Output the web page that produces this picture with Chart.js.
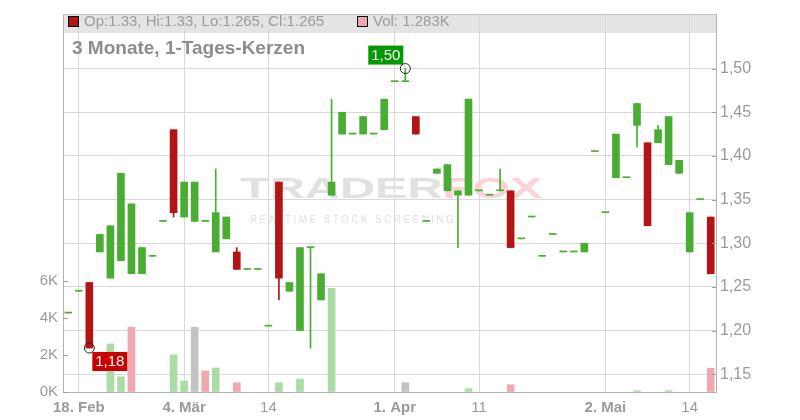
<!DOCTYPE html>
<html>
<head>
<meta charset="utf-8">
<script src="https://cdn.jsdelivr.net/npm/chart.js@4/dist/chart.umd.min.js"></script>
<style>
  body { margin: 0; background: #fff; }
  #wrap { width: 800px; height: 420px; }
</style>
</head>
<body>
<div id="wrap"><canvas id="chart"></canvas></div>
<script>
var dates = [
  '2025-02-17', '2025-02-18', '2025-02-19', '2025-02-20', '2025-02-21', '2025-02-24', '2025-02-25', '2025-02-26', '2025-02-27', '2025-02-28',
  '2025-03-03', '2025-03-04', '2025-03-05', '2025-03-06', '2025-03-07', '2025-03-10', '2025-03-11', '2025-03-12', '2025-03-13', '2025-03-14',
  '2025-03-17', '2025-03-18', '2025-03-19', '2025-03-20', '2025-03-21', '2025-03-24', '2025-03-25', '2025-03-26', '2025-03-27', '2025-03-28',
  '2025-03-31', '2025-04-01', '2025-04-02', '2025-04-03', '2025-04-04', '2025-04-07', '2025-04-08', '2025-04-09', '2025-04-10', '2025-04-11',
  '2025-04-14', '2025-04-15', '2025-04-16', '2025-04-17', '2025-04-22', '2025-04-23', '2025-04-24', '2025-04-25', '2025-04-28', '2025-04-29',
  '2025-04-30', '2025-05-02', '2025-05-05', '2025-05-06', '2025-05-07', '2025-05-08', '2025-05-09', '2025-05-12', '2025-05-13', '2025-05-14',
  '2025-05-15', '2025-05-16'
];

var opens = [
  1.22, 1.245, 1.255, 1.29, 1.26, 1.28, 1.265, 1.265, 1.285, 1.325,
  1.43, 1.33, 1.325, 1.325, 1.29, 1.305, 1.29, 1.27, 1.27, 1.205,
  1.37, 1.245, 1.20, 1.295, 1.235, 1.355, 1.425, 1.425, 1.425, 1.425,
  1.43, 1.485, 1.485, 1.445, 1.325, 1.38, 1.36, 1.355, 1.355, 1.36,
  1.355, 1.36, 1.36, 1.305, 1.33, 1.285, 1.31, 1.29, 1.29, 1.29,
  1.405, 1.335, 1.375, 1.375, 1.435, 1.415, 1.415, 1.39, 1.38, 1.29,
  1.35, 1.33
];
var highs = [
  1.22, 1.245, 1.255, 1.31, 1.32, 1.38, 1.345, 1.295, 1.285, 1.325,
  1.43, 1.37, 1.37, 1.325, 1.385, 1.33, 1.295, 1.27, 1.27, 1.205,
  1.37, 1.255, 1.295, 1.295, 1.265, 1.465, 1.45, 1.425, 1.445, 1.425,
  1.465, 1.485, 1.50, 1.445, 1.325, 1.385, 1.39, 1.36, 1.465, 1.36,
  1.355, 1.385, 1.36, 1.305, 1.33, 1.285, 1.31, 1.29, 1.29, 1.30,
  1.405, 1.335, 1.425, 1.375, 1.46, 1.415, 1.435, 1.445, 1.395, 1.335,
  1.35, 1.33
];
var lows = [
  1.22, 1.245, 1.18, 1.29, 1.26, 1.28, 1.265, 1.265, 1.285, 1.325,
  1.33, 1.33, 1.325, 1.325, 1.29, 1.305, 1.27, 1.27, 1.27, 1.205,
  1.235, 1.245, 1.20, 1.18, 1.235, 1.355, 1.425, 1.425, 1.425, 1.425,
  1.43, 1.485, 1.485, 1.425, 1.325, 1.38, 1.36, 1.295, 1.355, 1.36,
  1.355, 1.36, 1.295, 1.305, 1.33, 1.285, 1.31, 1.29, 1.29, 1.29,
  1.405, 1.335, 1.375, 1.375, 1.41, 1.32, 1.415, 1.39, 1.38, 1.29,
  1.35, 1.265
];
var closes = [
  1.22, 1.245, 1.18, 1.31, 1.32, 1.38, 1.345, 1.295, 1.285, 1.325,
  1.335, 1.37, 1.37, 1.325, 1.335, 1.33, 1.27, 1.27, 1.27, 1.205,
  1.26, 1.255, 1.295, 1.295, 1.265, 1.37, 1.45, 1.425, 1.445, 1.425,
  1.465, 1.485, 1.485, 1.425, 1.325, 1.385, 1.39, 1.36, 1.465, 1.36,
  1.355, 1.36, 1.295, 1.305, 1.33, 1.285, 1.31, 1.29, 1.29, 1.30,
  1.405, 1.335, 1.425, 1.375, 1.46, 1.32, 1.43, 1.445, 1.395, 1.335,
  1.35, 1.265
];
var volumes = [
  0, 0, 0, 0, 2600, 820, 3500, 0, 0, 0,
  2000, 600, 3500, 1140, 1300, 0, 500, 0, 0, 0,
  500, 0, 700, 0, 0, 5600, 0, 0, 0, 0,
  0, 0, 500, 0, 0, 0, 0, 0, 180, 0,
  0, 0, 390, 0, 0, 0, 0, 0, 0, 0,
  0, 0, 0, 0, 70, 0, 0, 70, 0, 0,
  0, 1283
];

var tickIndex = [1, 11, 19, 31, 39, 51, 59];
var tickText = ['18. Feb', '4. Mär', '14', '1. Apr', '11', '2. Mai', '14'];
var priceTicks = [1.15, 1.20, 1.25, 1.30, 1.35, 1.40, 1.45, 1.50];
var volTicks = [0, 2000, 4000, 6000];

var GREEN = '#4aad33';
var RED = '#b31515';
var FONT = "'Liberation Sans', Arial, sans-serif";

Chart.defaults.font.family = FONT;
Chart.defaults.color = '#999';

var candleColors = dates.map(function(d, i) {
  return closes[i] < opens[i] ? RED : GREEN;
});
var volColors = dates.map(function(d, i) {
  if (i === 0 || closes[i] === closes[i - 1]) return '#c2c2c2';
  return closes[i] > closes[i - 1] ? '#aadca5' : '#f0a8b0';
});
var bodies = dates.map(function(d, i) {
  return [Math.min(opens[i], closes[i]), Math.max(opens[i], closes[i])];
});
var wicks = dates.map(function(d, i) {
  return [lows[i], highs[i]];
});
// days without turnover get no bar at all
var volBars = volumes.map(function(v) { return v > 0 ? v : null; });

function fmtPrice(v) {
  return v.toFixed(2).replace('.', ',');
}

var decor = {
  id: 'decor',
  beforeDraw: function(chart) {
    var ctx = chart.ctx, a = chart.chartArea;
    ctx.save();
    ctx.fillStyle = '#e4e4e4';
    ctx.fillRect(a.left, a.top, a.right - a.left, 19);
    ctx.restore();
  },
  beforeDatasetsDraw: function(chart) {
    var ctx = chart.ctx;
    var last = dates.length - 1;
    ctx.save();

    // watermark
    ctx.textBaseline = 'alphabetic';
    ctx.font = 'bold 30px ' + FONT;
    ctx.save();
    ctx.translate(240, 198);
    ctx.scale(1.62, 1);
    ctx.fillStyle = '#e1e1e1';
    ctx.fillText('TRADER', 0, 0);
    var w = ctx.measureText('TRADER').width;
    ctx.fillStyle = '#fbd3d7';
    ctx.fillText('FOX', w, 0);
    ctx.restore();
    ctx.font = '10px ' + FONT;
    ctx.fillStyle = '#e0e0e0';
    ctx.letterSpacing = '2.4px';
    ctx.fillText('REALTIME STOCK SCREENING', 250, 223);
    ctx.letterSpacing = '0px';

    // header line
    ctx.font = '15px ' + FONT;
    ctx.textBaseline = 'middle';
    ctx.fillStyle = candleColors[last];
    ctx.fillRect(68.5, 16.5, 10, 10);
    ctx.strokeStyle = '#000';
    ctx.lineWidth = 1;
    ctx.strokeRect(68.5, 16.5, 10, 10);
    ctx.fillStyle = '#9a9a9a';
    ctx.fillText('Op:' + opens[last] + ', Hi:' + highs[last] + ', Lo:' + lows[last] + ', Cl:' + closes[last], 84, 21.5);
    ctx.fillStyle = volColors[last];
    ctx.fillRect(357.5, 16.5, 10, 10);
    ctx.strokeRect(357.5, 16.5, 10, 10);
    ctx.fillStyle = '#9a9a9a';
    ctx.fillText('Vol: ' + (volumes[last] / 1000).toFixed(3) + 'K', 373, 21.5);

    // title
    ctx.font = 'bold 19px ' + FONT;
    ctx.fillStyle = '#8c8c8c';
    ctx.fillText('3 Monate, 1-Tages-Kerzen', 72, 48.5);
    ctx.restore();
  },
  afterDatasetsDraw: function(chart) {
    var ctx = chart.ctx;
    var x = chart.scales.x, p = chart.scales.price;
    var hi = highs.indexOf(Math.max.apply(null, highs));
    var lo = lows.indexOf(Math.min.apply(null, lows));
    var hx = x.getPixelForValue(hi), hy = p.getPixelForValue(highs[hi]);
    var lx = x.getPixelForValue(lo), ly = p.getPixelForValue(lows[lo]);
    ctx.save();
    ctx.font = '15px ' + FONT;
    ctx.textAlign = 'center';
    ctx.textBaseline = 'middle';
    ctx.fillStyle = '#009a00';
    ctx.fillRect(hx - 37, hy - 23, 35, 19);
    ctx.fillStyle = '#fff';
    ctx.fillText(fmtPrice(highs[hi]), hx - 19.5, hy - 13);
    ctx.fillStyle = '#cc0000';
    ctx.fillRect(lx + 3, ly + 4, 35, 19);
    ctx.fillStyle = '#fff';
    ctx.fillText(fmtPrice(lows[lo]), lx + 20.5, ly + 14);
    ctx.strokeStyle = '#222';
    ctx.lineWidth = 1;
    ctx.beginPath();
    ctx.arc(hx, hy, 5, 0, Math.PI * 2);
    ctx.stroke();
    ctx.beginPath();
    ctx.arc(lx, ly, 5, 0, Math.PI * 2);
    ctx.stroke();
    ctx.restore();
  },
  afterDraw: function(chart) {
    var ctx = chart.ctx, a = chart.chartArea;
    var p = chart.scales.price, v = chart.scales.vol;
    ctx.save();
    ctx.strokeStyle = '#c4c4c4';
    ctx.lineWidth = 1;
    ctx.beginPath();
    ctx.moveTo(a.left, Math.round(a.top) + 0.5);
    ctx.lineTo(a.right, Math.round(a.top) + 0.5);
    ctx.stroke();
    ctx.strokeStyle = '#a0a0a0';
    ctx.beginPath();
    priceTicks.forEach(function(t) {
      var y = Math.round(p.getPixelForValue(t)) + 0.5;
      ctx.moveTo(a.right - 4, y);
      ctx.lineTo(a.right, y);
    });
    volTicks.forEach(function(t) {
      var y = Math.round(v.getPixelForValue(t)) + 0.5;
      ctx.moveTo(a.left, y);
      ctx.lineTo(a.left + 5, y);
    });
    ctx.stroke();
    ctx.restore();
  }
};

new Chart(document.getElementById('chart'), {
  type: 'bar',
  data: {
    labels: dates,
    datasets: [
      {
        label: 'Kerzen',
        data: bodies,
        yAxisID: 'price',
        backgroundColor: candleColors,
        barThickness: 7,
        minBarLength: 1,
        order: 1
      },
      {
        label: 'Dochte',
        data: wicks,
        yAxisID: 'price',
        backgroundColor: candleColors,
        barThickness: 1,
        minBarLength: 0,
        order: 2
      },
      {
        label: 'Volumen',
        data: volBars,
        yAxisID: 'vol',
        backgroundColor: volColors,
        barThickness: 7,
        order: 3
      }
    ]
  },
  options: {
    responsive: true,
    maintainAspectRatio: false,
    animation: false,
    layout: { padding: { top: 11 } },
    datasets: { bar: { grouped: false } },
    plugins: {
      legend: { display: false },
      tooltip: { enabled: false }
    },
    scales: {
      x: {
        offset: true,
        grid: {
          offset: false,
          drawTicks: false,
          color: function(c) {
            return tickIndex.indexOf(c.index) >= 0 ? '#d9d9d9' : 'rgba(0,0,0,0)';
          }
        },
        border: { color: '#b4b4b4' },
        ticks: {
          autoSkip: false,
          maxRotation: 0,
          padding: 7,
          color: '#9a9a9a',
          font: function(c) {
            var k = tickIndex.indexOf(c.index);
            var bold = k >= 0 && tickText[k].indexOf('.') >= 0;
            return { size: 15, weight: bold ? 'bold' : 'normal' };
          },
          callback: function(val, i) {
            var k = tickIndex.indexOf(i);
            return k >= 0 ? tickText[k] : '';
          }
        },
        afterFit: function(s) { s.height = 28; }
      },
      price: {
        position: 'right',
        min: 1.1296,
        max: 1.5625,
        grid: { color: '#d9d9d9', drawTicks: false },
        border: { color: '#b4b4b4' },
        ticks: {
          padding: 4,
          color: '#9a9a9a',
          font: { size: 16 },
          callback: function(v) { return fmtPrice(v); }
        },
        afterBuildTicks: function(s) {
          s.ticks = priceTicks.map(function(t) { return { value: t }; });
        },
        afterFit: function(s) { s.width = 84; }
      },
      vol: {
        position: 'left',
        min: 0,
        max: 20430,
        grid: { drawOnChartArea: false, drawTicks: false },
        border: { color: '#b4b4b4' },
        ticks: {
          padding: 5,
          color: '#9a9a9a',
          font: { size: 15 },
          callback: function(v) { return (v / 1000) + 'K'; }
        },
        afterBuildTicks: function(s) {
          s.ticks = volTicks.map(function(t) { return { value: t }; });
        },
        afterFit: function(s) { s.width = 63; }
      }
    }
  },
  plugins: [decor]
});
</script>
</body>
</html>
